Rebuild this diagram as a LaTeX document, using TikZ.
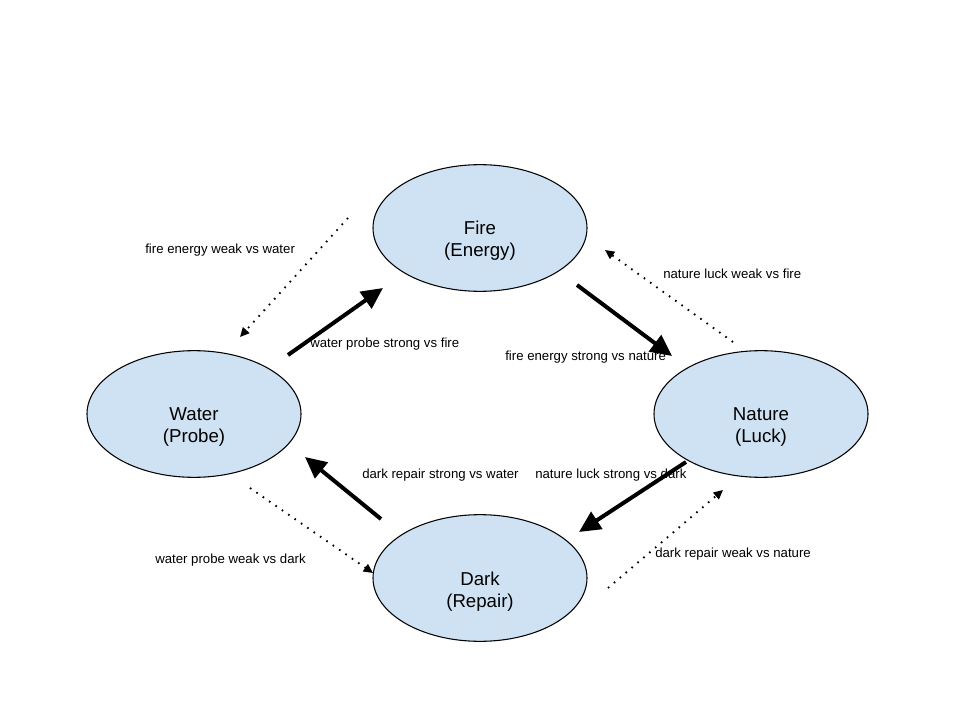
\documentclass[tikz,border=0pt]{standalone}
\usepackage{fontspec}
\setmainfont{Liberation Sans}
\usetikzlibrary{arrows.meta,shapes.geometric}
\definecolor{elfill}{HTML}{CFE2F3}
\begin{document}
\begin{tikzpicture}[x=0.75pt,y=-0.75pt,
  elem/.style={ellipse,draw=black,line width=0.8pt,fill=elfill,minimum width=160.5pt,minimum height=95pt,inner sep=0pt},
  eltext/.style={align=center,inner sep=0pt,font=\fontsize{14}{16.5}\selectfont},
  strong/.style={line width=3pt,-{Triangle[length=16pt,width=15pt]}},
  weak/.style={line width=1.4pt,dash pattern=on 1.2pt off 4.6pt,-{Triangle[length=7pt,width=6.5pt]}},
  lbl/.style={anchor=west,inner sep=0pt,font=\fontsize{9.9}{11}\selectfont}]
\useasboundingbox (0,0) rectangle (960,720);
\node[elem] (fire) at (480,228) {};
\node[elem] (water) at (194,414) {};
\node[elem] (nature) at (761,414) {};
\node[elem] (dark) at (480,578) {};
\node[eltext] (firet) at ([yshift=-9.5pt]fire.center) {Fire\\(Energy)};
\node[eltext] (watert) at ([yshift=-9.5pt]water.center) {Water\\(Probe)};
\node[eltext] (naturet) at ([yshift=-9.5pt]nature.center) {Nature\\(Luck)};
\node[eltext] (darkt) at ([yshift=-10.5pt]dark.center) {Dark\\(Repair)};
% strong arrows
\coordinate (ws) at (288,355); \coordinate (we) at (383,288);
\coordinate (fs) at (577,285); \coordinate (fe) at (672,356);
\coordinate (ns) at (686,462); \coordinate (ne) at (579,532);
\coordinate (ds) at (381,519); \coordinate (de) at (305,457);
\draw[strong] (ws) -- (we);
\draw[strong] (fs) -- (fe);
\draw[strong] (ns) -- (ne);
\draw[strong] (ds) -- (de);
% weak arrows
\coordinate (a1) at (348,218); \coordinate (b1) at (240,337);
\coordinate (a2) at (733,342); \coordinate (b2) at (605,250);
\coordinate (a3) at (250,488); \coordinate (b3) at (373,573);
\coordinate (a4) at (608,588); \coordinate (b4) at (723,490);
\draw[weak] (a1) -- (b1);
\draw[weak] (a2) -- (b2);
\draw[weak] (a3) -- (b3);
\draw[weak] (a4) -- (b4);
% labels
\node[lbl] (l1) at (145,250) {fire energy weak vs water};
\node[lbl] (l2) at (663,274) {nature luck weak vs fire};
\node[lbl] (l3) at (310,344) {water probe strong vs fire};
\node[lbl] (l4) at (505,357) {fire energy strong vs nature};
\node[lbl] (l5) at (362,475) {dark repair strong vs water};
\node[lbl] (l6) at (535,475) {nature luck strong vs dark};
\node[lbl] (l7) at (155,560) {water probe weak vs dark};
\node[lbl] (l8) at (655,554) {dark repair weak vs nature};
\end{tikzpicture}
\end{document}
